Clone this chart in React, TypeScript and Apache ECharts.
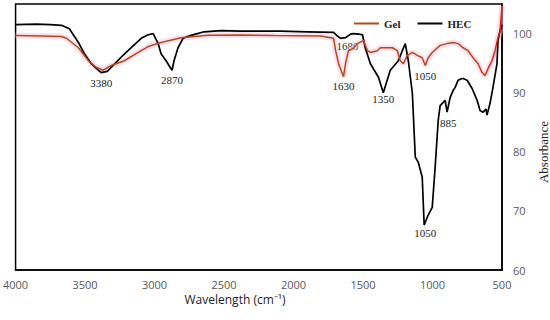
import React, { useEffect, useRef } from "react";
import * as echarts from "echarts";

const xTicks = [4000, 3500, 3000, 2500, 2000, 1500, 1000, 500];
const yTicks = [60, 70, 80, 90, 100];

const hecX = [4000, 3850, 3750, 3670, 3613, 3548, 3505, 3455, 3405, 3383, 3340, 3311, 3240, 3168, 3096, 3046, 3010, 2974, 2953, 2917, 2896, 2874, 2860, 2831, 2795, 2738, 2644, 2523, 2379, 2092, 1900, 1712, 1680, 1662, 1626, 1590, 1569, 1530, 1504, 1483, 1447, 1389, 1354, 1304, 1246, 1217, 1196, 1174, 1145, 1124, 1102, 1074, 1060, 1045, 1031, 1002, 981, 959, 945, 909, 895, 873, 851, 837, 816, 787, 780, 751, 715, 679, 658, 636, 615, 608, 586, 565, 536, 529, 514, 505, 500];
const hecY = [101.5, 101.6, 101.5, 101.4, 100.8, 98.5, 96.6, 94.9, 93.8, 93.4, 93.6, 94.3, 96.0, 97.6, 99.2, 99.8, 100.0, 98.3, 96.6, 95.4, 94.6, 93.8, 95.4, 97.6, 99.2, 99.7, 100.3, 100.5, 100.4, 100.4, 100.3, 100.2, 99.5, 99.2, 99.3, 99.9, 100.0, 99.9, 99.8, 97.5, 94.9, 92.6, 90.0, 93.8, 95.4, 97.1, 98.3, 95.4, 89.9, 79.1, 78.2, 75.7, 67.6, 68.5, 69.3, 70.6, 77.4, 85.3, 87.8, 88.7, 86.7, 89.2, 90.4, 90.9, 92.1, 92.4, 92.4, 92.1, 90.7, 88.7, 87.0, 86.7, 87.2, 86.2, 88.2, 90.9, 94.9, 98.8, 100.5, 101.0, 101.5];

const gelX = [4000, 3813, 3670, 3634, 3548, 3476, 3420, 3370, 3311, 3218, 3118, 3046, 2953, 2809, 2616, 2379, 2142, 1805, 1712, 1697, 1676, 1640, 1626, 1605, 1569, 1540, 1497, 1468, 1447, 1397, 1375, 1289, 1253, 1232, 1210, 1181, 1145, 1110, 1074, 1052, 1031, 1002, 945, 895, 851, 816, 780, 744, 708, 672, 643, 622, 600, 572, 550, 529, 514, 500];
const gelY = [99.66, 99.6, 99.5, 99.2, 97.6, 95.4, 94.3, 93.8, 94.6, 95.4, 96.8, 97.8, 98.5, 99.3, 99.7, 99.75, 99.66, 99.6, 99.2, 97.1, 94.9, 92.7, 94.9, 97.1, 97.5, 98.3, 98.8, 97.1, 96.8, 97.1, 97.6, 97.6, 97.1, 95.4, 94.9, 96.3, 96.8, 96.3, 95.9, 94.6, 95.9, 96.8, 98.0, 98.3, 98.5, 98.3, 97.6, 97.1, 95.9, 94.9, 93.4, 92.9, 94.1, 95.4, 97.1, 99.3, 100.5, 104.7];

const annoText = ["3380", "2870", "1680", "1630", "1350", "1050", "885", "1050"];
const annoX = [3383, 2874, 1612, 1640, 1354, 1052, 887, 1052];
const annoY = [91.56, 92.07, 97.97, 91.2, 88.86, 92.9, 84.8, 66.2];

const zip = (xs: number[], ys: number[]) => xs.map((x, i) => [x, ys[i]]);

export default function App() {
  const ref = useRef<HTMLDivElement>(null);
  useEffect(() => {
    if (!ref.current) return;
    const chart = echarts.init(ref.current, null, { renderer: "svg" });
    const gelData = zip(gelX, gelY);
    const hecData = zip(hecX, hecY);
    chart.setOption({
      animation: false,
      backgroundColor: "#fff",
      grid: { left: 14, right: 48, top: 4, bottom: 50, show: true, borderColor: "#000", borderWidth: 1.5, backgroundColor: "transparent" },
      legend: {
        left: 349,
        top: 13,
        itemWidth: 25,
        itemHeight: 2,
        itemGap: 17,
        icon: "rect",
        textStyle: { fontFamily: "Liberation Serif", fontSize: 11, fontWeight: "bold", color: "#222" },
        data: [
          { name: "Gel", itemStyle: { color: "#b04a1e" } },
          { name: "HEC", itemStyle: { color: "#000" } },
        ],
      },
      xAxis: {
        type: "value",
        inverse: true,
        min: 500,
        max: 4000,
        interval: 500,
        axisLine: { show: true, lineStyle: { color: "#000", width: 1.5 } },
        axisTick: { show: false },
        splitLine: { show: false },
        axisLabel: { margin: 9, color: "#595959", fontFamily: "Open Sans", fontSize: 11, formatter: (v: number) => (xTicks.includes(v) ? String(v) : "") },
      },
      yAxis: {
        type: "value",
        position: "right",
        min: 60,
        max: 105,
        interval: 10,
        axisLine: { show: true, lineStyle: { color: "#000", width: 1.5 } },
        axisTick: { show: false },
        splitLine: { show: false },
        axisLabel: { margin: 11, color: "#595959", fontFamily: "Open Sans", fontSize: 11, showMaxLabel: false, formatter: (v: number) => (yTicks.includes(v) ? String(v) : "") },
      },
      series: [
        {
          name: "GelGlow",
          type: "line",
          data: gelData,
          showSymbol: false,
          silent: true,
          lineStyle: { width: 6, color: "rgba(248,195,220,0.5)" },
          z: 1,
        },
        {
          name: "Gel",
          type: "line",
          data: gelData,
          showSymbol: false,
          itemStyle: { color: "#b04a1e" },
          lineStyle: {
            width: 1.5,
            color: {
              type: "linear", x: 0, y: 0, x2: 1, y2: 0,
              colorStops: [
                { offset: 0, color: "#b04a1e" },
                { offset: 0.955, color: "#b04a1e" },
                { offset: 0.975, color: "#e02010" },
                { offset: 1, color: "#e02010" },
              ],
            },
          },
          z: 3,
        },
        {
          name: "HEC",
          type: "line",
          data: hecData,
          showSymbol: false,
          itemStyle: { color: "#000" },
          lineStyle: { width: 1.7, color: "#000" },
          z: 2,
        },
      ],
    });
    const graphics: any[] = annoText.map((t, i) => {
      const [px, py] = chart.convertToPixel({ xAxisIndex: 0, yAxisIndex: 0 }, [annoX[i], annoY[i]]) as number[];
      return {
        type: "text",
        x: px,
        y: py,
        style: { text: t, fontFamily: "Liberation Serif", fontSize: 11, fill: "#222", align: "center", verticalAlign: "middle" },
      };
    });
    graphics.push({
      type: "text",
      x: 235,
      y: 299,
      style: { text: "Wavelength (cm⁻¹)", fontFamily: "Open Sans", fontSize: 12, fill: "#222", align: "center", verticalAlign: "middle" },
    });
    graphics.push({
      type: "text",
      x: 543,
      y: 152,
      rotation: Math.PI / 2,
      style: { text: "Absorbance", fontFamily: "Liberation Serif", fontSize: 13, fill: "#222", align: "center", verticalAlign: "middle" },
    });
    chart.setOption({ graphic: graphics });
    return () => chart.dispose();
  }, []);
  return <div ref={ref} style={{ width: 550, height: 320, position: "absolute", left: 0, top: 0 }} />;
}
